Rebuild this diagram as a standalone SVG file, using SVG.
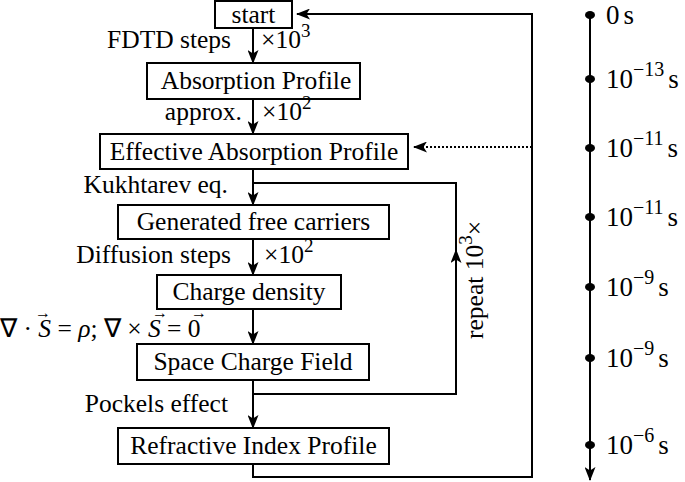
<svg xmlns="http://www.w3.org/2000/svg" width="685" height="482" viewBox="0 0 685 482">
<style>
text{font-family:"Liberation Serif","Times New Roman",serif;font-size:25.5px;fill:#000}
.box{fill:#fff;stroke:#000;stroke-width:2}
.c{text-anchor:middle}
.e{text-anchor:end}
.ln{fill:none;stroke:#000;stroke-width:2}
.sup{font-size:19px}
.it{font-style:italic}
.vec{font-size:16px;font-style:normal}
.tl{font-size:27px}
.tls{font-size:20px}
</style>
<defs>
<marker id="arr" viewBox="0 0 14 11" refX="13" refY="5.5" markerWidth="14" markerHeight="11" markerUnits="userSpaceOnUse" orient="auto">
<path d="M0,0 L14,5.5 L0,11 L3.5,5.5 Z" fill="#000"/>
</marker>
</defs>
<g id="connectors">
<path class="ln" d="M253,28 V63" marker-end="url(#arr)"/>
<path class="ln" d="M253,99 V134" marker-end="url(#arr)"/>
<path class="ln" d="M253,169 V205" marker-end="url(#arr)"/>
<path class="ln" d="M253,239 V275" marker-end="url(#arr)"/>
<path class="ln" d="M253,309 V344" marker-end="url(#arr)"/>
<path class="ln" d="M253,380 V428" marker-end="url(#arr)"/>
<path class="ln" d="M253,394 H456 V250" marker-end="url(#arr)"/>
<path class="ln" d="M456,254 V183 H253"/>
<path class="ln" d="M253,464 V477 H532 V14 H297" marker-end="url(#arr)"/>
<path class="ln" d="M532,147 H414" stroke-dasharray="2,2" marker-end="url(#arr)"/>
<path class="ln" d="M590,15 V480" marker-end="url(#arr)"/>
</g>
<g id="start"><rect class="box" x="215" y="1" width="77" height="27"/><text class="c" x="253.5" y="23">start</text></g>
<g id="absorption"><rect class="box" x="147" y="63" width="213" height="36"/><text class="c" x="256" y="89">Absorption Profile</text></g>
<g id="effective"><rect class="box" x="100" y="134" width="308" height="35"/><text class="c" x="254" y="160">Effective Absorption Profile</text></g>
<g id="carriers"><rect class="box" x="118" y="205" width="271" height="34"/><text class="c" x="253.5" y="230">Generated free carriers</text></g>
<g id="charge"><rect class="box" x="157" y="275" width="184" height="34"/><text class="c" x="249" y="300">Charge density</text></g>
<g id="field"><rect class="box" x="137" y="344" width="232" height="36"/><text class="c" x="253" y="370">Space Charge Field</text></g>
<g id="refractive"><rect class="box" x="118" y="428" width="271" height="36"/><text class="c" x="253.5" y="454">Refractive Index Profile</text></g>
<g id="labels">
<text class="e" x="231" y="48">FDTD steps</text>
<text x="261" y="48">×10<tspan class="sup" dy="-11">3</tspan></text>
<text class="e" x="242" y="120">approx.</text>
<text x="262" y="120">×10<tspan class="sup" dy="-11">2</tspan></text>
<text class="e" x="228" y="193">Kukhtarev eq.</text>
<text class="e" x="231" y="263">Diffusion steps</text>
<text x="264" y="263">×10<tspan class="sup" dy="-11">2</tspan></text>
<text x="0" y="337">∇ · <tspan class="it">S</tspan> = <tspan class="it">ρ</tspan>; ∇ × <tspan class="it">S</tspan> = 0<tspan class="vec" x="35" y="318">→</tspan><tspan class="vec" x="152" y="318">→</tspan><tspan class="vec" x="191" y="318">→</tspan></text>
<text class="e" x="228" y="412">Pockels effect</text>
<text transform="translate(483,339) rotate(-90)">repeat 10<tspan class="sup" dy="-11">3</tspan><tspan dy="11">×</tspan></text>
</g>
<g id="timeline">
<ellipse cx="590" cy="15" rx="5" ry="4"/>
<ellipse cx="590" cy="79" rx="5" ry="4"/>
<ellipse cx="590" cy="148" rx="5" ry="4"/>
<ellipse cx="590" cy="217" rx="5" ry="4"/>
<ellipse cx="590" cy="287" rx="5" ry="4"/>
<ellipse cx="590" cy="358" rx="5" ry="4"/>
<ellipse cx="590" cy="445" rx="5" ry="4"/>
<text class="tl" x="606" y="24">0<tspan dx="4">s</tspan></text>
<text class="tl" x="606" y="88">10<tspan class="tls" dy="-12">−13</tspan><tspan dx="4" dy="12">s</tspan></text>
<text class="tl" x="606" y="157">10<tspan class="tls" dy="-12">−11</tspan><tspan dx="4" dy="12">s</tspan></text>
<text class="tl" x="606" y="226">10<tspan class="tls" dy="-12">−11</tspan><tspan dx="4" dy="12">s</tspan></text>
<text class="tl" x="606" y="296">10<tspan class="tls" dy="-12">−9</tspan><tspan dx="4" dy="12">s</tspan></text>
<text class="tl" x="606" y="367">10<tspan class="tls" dy="-12">−9</tspan><tspan dx="4" dy="12">s</tspan></text>
<text class="tl" x="606" y="454">10<tspan class="tls" dy="-12">−6</tspan><tspan dx="4" dy="12">s</tspan></text>
</g>
</svg>
